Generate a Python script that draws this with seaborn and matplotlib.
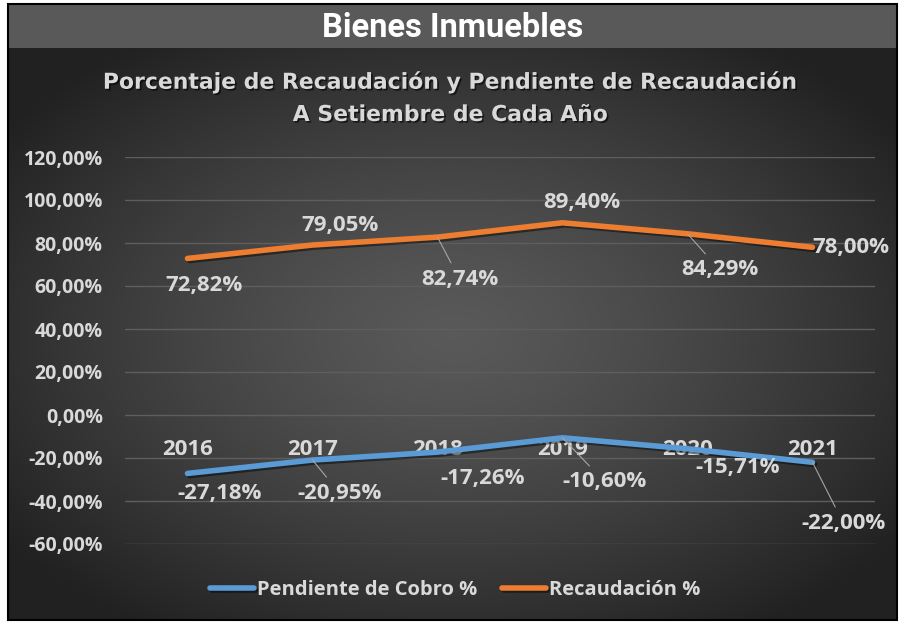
import numpy as np
import pandas as pd
import matplotlib
matplotlib.use("Agg")
import matplotlib.pyplot as plt
import matplotlib.patheffects as pe
from matplotlib.patches import Rectangle
from matplotlib.ticker import FuncFormatter
import seaborn as sns

# data
years = ["2016", "2017", "2018", "2019", "2020", "2021"]
pendiente = [-27.18, -20.95, -17.26, -10.60, -15.71, -22.00]
recaudacion = [72.82, 79.05, 82.74, 89.40, 84.29, 78.00]
series_names = ["Pendiente de Cobro %", "Recaudación %"]
colors = ["#5b9bd5", "#ed7d31"]

df = pd.DataFrame({
    "pos": list(range(len(years))) * 2,
    "value": pendiente + recaudacion,
    "serie": [series_names[0]] * len(years) + [series_names[1]] * len(years),
})

sns.set_theme(style="dark")
plt.rcParams["font.family"] = ["Open Sans", "DejaVu Sans"]
txt = "#d9d9d9"

W, H = 899, 627
fig = plt.figure(figsize=(W / 100, H / 100), dpi=100, facecolor="white")

def fx(px):
    return px / W

def fy(py):
    return 1 - py / H

# radial gradient background
bg = fig.add_axes([fx(8), fy(620), fx(897 - 8), (620 - 48) / H], zorder=-10)
yy, xx = np.mgrid[0:1:300j, 0:1:450j]
r = np.sqrt(((xx - 0.5) / 0.62) ** 2 + ((yy - 0.5) / 0.62) ** 2)
r = np.clip(r, 0, 1)
shade = 0.35 - (0.35 - 0.13) * r ** 1.3
bg.imshow(np.dstack([shade] * 3), aspect="auto", extent=[0, 1, 0, 1])
bg.set_axis_off()

# title band
fig.patches.append(Rectangle((fx(8), fy(48)), fx(889), (48 - 4) / H,
                             transform=fig.transFigure, facecolor="#595959",
                             edgecolor="none", zorder=-5))
fig.patches.append(Rectangle((fx(8), fy(620)), fx(889), (620 - 4) / H,
                             transform=fig.transFigure, facecolor="none",
                             edgecolor="black", lw=1.5, zorder=5))
fig.text(fx(453), fy(28), "Bienes Inmuebles", ha="center", va="center",
         color="white", fontsize=23.5, fontweight="bold",
         family=["Roboto", "DejaVu Sans"])

shadow = [pe.withSimplePatchShadow(offset=(1.2, -1.2), shadow_rgbFace="black", alpha=0.6)]
fig.text(fx(452), fy(82), "Porcentaje de Recaudación y Pendiente de Recaudación",
         ha="center", va="center", color=txt, fontsize=15.8, fontweight="bold",
         family=["DejaVu Sans"], path_effects=shadow)
fig.text(fx(451), fy(115), "A Setiembre de Cada Año",
         ha="center", va="center", color=txt, fontsize=15.8, fontweight="bold",
         family=["DejaVu Sans"], path_effects=shadow)

ax = fig.add_axes([fx(125), fy(544), fx(750), (544 - 157) / H])
ax.set_facecolor("none")

sns.lineplot(data=df, x="pos", y="value", hue="serie", palette=colors,
             linewidth=4, ax=ax, sort=False)

for line in ax.lines:
    line.set_solid_capstyle("round")
    line.set_path_effects([pe.SimpleLineShadow(offset=(1.5, -1.5), shadow_color="black", alpha=0.45),
                           pe.Normal()])

ax.set_xlim(-0.5, len(years) - 0.5)
ax.set_ylim(-60, 120)
ax.set_yticks(np.arange(-60, 121, 20))
ax.yaxis.set_major_formatter(FuncFormatter(lambda v, p: f"{v:.2f}%".replace(".", ",")))
ax.set_xticks(range(len(years)))
ax.set_xticklabels(years)
ax.spines["bottom"].set_position(("data", 0))
for s in ax.spines.values():
    s.set_visible(False)
ax.tick_params(axis="x", length=0, pad=17, labelsize=16, labelcolor=txt)
ax.tick_params(axis="y", length=0, pad=16, labelsize=14, labelcolor=txt)
for lab in ax.get_xticklabels() + ax.get_yticklabels():
    lab.set_fontweight("bold")
ax.grid(axis="y", color="#5e5e5e", lw=1)
ax.grid(axis="x", visible=False)
ax.set_xlabel("")
ax.set_ylabel("")

# data labels (pixel offsets from each point), leader line where label sits away
off_rec = [(17, 27), (27, -20), (22, 42), (19, -20), (32, 36), (38, 0)]
lead_rec = [False, False, True, False, True, False]
off_pen = [(32, 20), (27, 33), (45, 26), (42, 44), (50, 19), (31, 61)]
lead_pen = [False, True, False, True, False, True]

def label(vals, offs, leads):
    for i, (v, (dx, dy), ld) in enumerate(zip(vals, offs, leads)):
        kw = {}
        if ld:
            kw["arrowprops"] = dict(arrowstyle="-", color="#a6a6a6", lw=0.8,
                                    shrinkA=2, shrinkB=0)
        ax.annotate(f"{v:.2f}%".replace(".", ","), xy=(i, v),
                    xytext=(dx * 0.72, -dy * 0.72), textcoords="offset points",
                    ha="center", va="center", color=txt, fontsize=16,
                    fontweight="bold", **kw)

label(recaudacion, off_rec, lead_rec)
label(pendiente, off_pen, lead_pen)

handles, labels = ax.get_legend_handles_labels()
ax.get_legend().remove()
leg = fig.legend(handles, labels, loc="center", bbox_to_anchor=(fx(455), fy(590)),
                 ncol=2, frameon=False, handlelength=2.2,
                 handletextpad=0.15, columnspacing=1.2,
                 prop={"family": ["Open Sans", "DejaVu Sans"], "weight": "bold", "size": 14.5})
for t in leg.get_texts():
    t.set_color(txt)
for h in leg.legend_handles:
    h.set_linewidth(4)
    h.set_solid_capstyle("round")

fig.savefig("out.png", dpi=100, facecolor="white")
